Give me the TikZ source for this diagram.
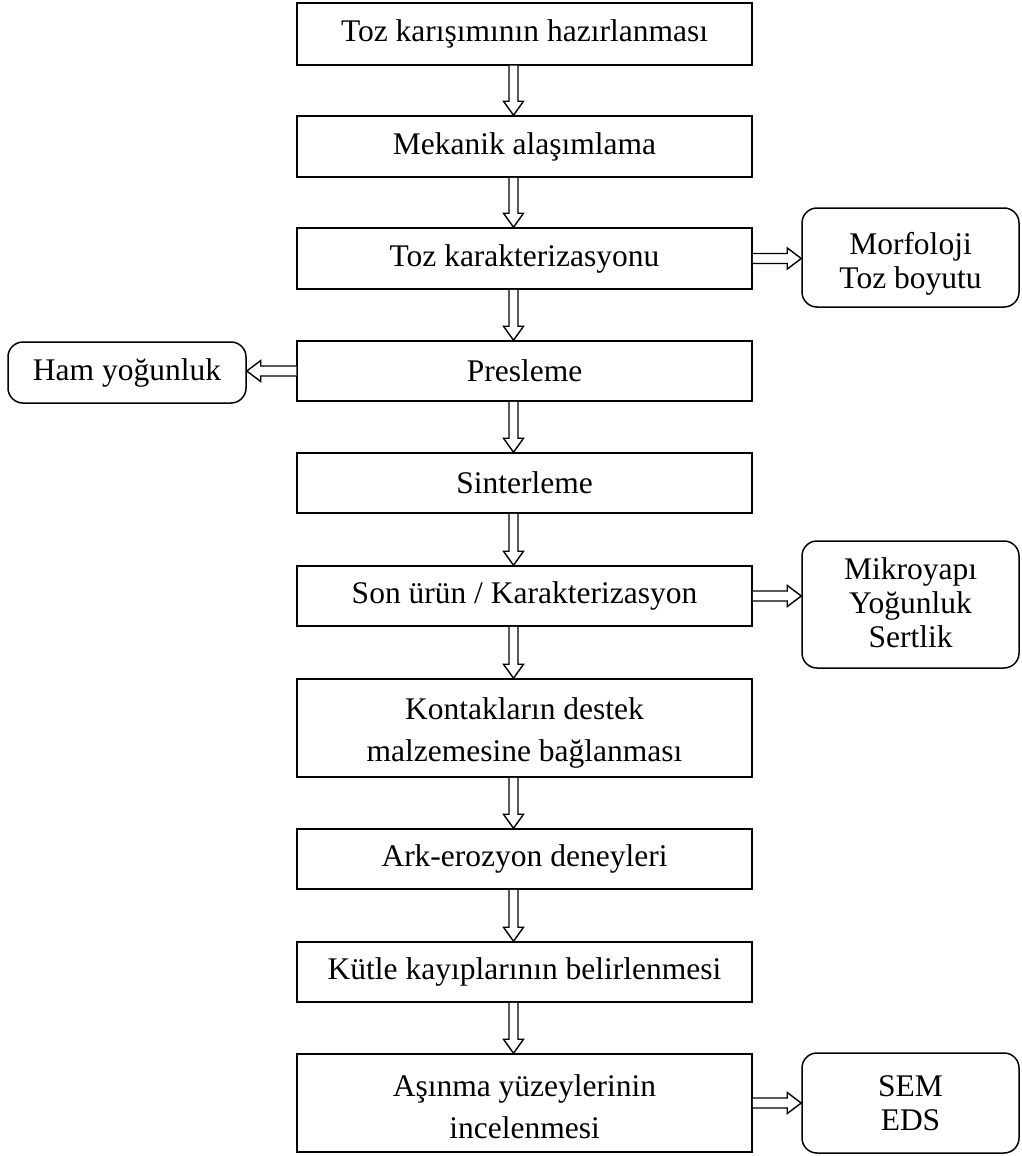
\documentclass[tikz,border=0pt]{standalone}
\usepackage{fontspec}
\setmainfont{Liberation Serif}
\usetikzlibrary{calc}
\newcommand\myDarr[2]{\path[blockarr] let \p1=(#1.south), \p2=(#2.north) in (\x1-15.5pt,\y1) -- (\x1-15.5pt,\y2+14pt) -- (\x1-21pt,\y2+14pt) -- (\x1-11pt,\y2) -- (\x1-1pt,\y2+14pt) -- (\x1-6.5pt,\y2+14pt) -- (\x1-6.5pt,\y1);}
\newcommand\myRarr[2]{\path[blockarr] let \p1=(#1.east), \p2=(#2.west) in (\x1,\y1+5pt) -- (\x2-14pt,\y1+5pt) -- (\x2-14pt,\y1+10.5pt) -- (\x2,\y1) -- (\x2-14pt,\y1-10.5pt) -- (\x2-14pt,\y1-5pt) -- (\x1,\y1-5pt);}
\newcommand\myLarr[2]{\path[blockarr] let \p1=(#1.west), \p2=(#2.east) in (\x1,\y1+5pt) -- (\x2+14pt,\y1+5pt) -- (\x2+14pt,\y1+10.5pt) -- (\x2,\y1) -- (\x2+14pt,\y1-10.5pt) -- (\x2+14pt,\y1-5pt) -- (\x1,\y1-5pt);}
\begin{document}
\begin{tikzpicture}[x=1pt,y=-1pt,
  mainbox/.style={draw, line width=1.5pt, minimum width=455pt, inner sep=0pt, align=center, font=\fontsize{31.5}{42}\selectfont},
  sidebox/.style={draw, line width=1.5pt, rounded corners=15pt, minimum width=217pt, inner sep=0pt, align=center, font=\fontsize{31.5}{34}\selectfont},
  maintext/.style={inner sep=0pt, align=center, font=\fontsize{31.5}{42}\selectfont},
  sidetext/.style={inner sep=0pt, align=center, font=\fontsize{31.5}{34}\selectfont},
  blockarr/.style={draw, fill=white, line width=1.4pt, line join=miter}]
\useasboundingbox[fill=white] (0,0) rectangle (1021,1156);
\node[mainbox, minimum height=62pt] (b1) at (524.5,34) {Toz karışımının hazırlanması};
\node[mainbox, minimum height=61pt] (b2) at (524.5,146.5) {Mekanik alaşımlama};
\node[mainbox, minimum height=61pt] (b3) at (524.5,258.5) {Toz karakterizasyonu};
\node[mainbox, minimum height=60pt] (b4) at (524.5,371) {Presleme};
\node[mainbox, minimum height=60pt] (b5) at (524.5,483) {Sinterleme};
\node[mainbox, minimum height=60pt] (b6) at (524.5,596) {Son ürün / Karakterizasyon};
\node[mainbox, minimum height=98pt, label={[name=b7t, maintext, yshift=-5pt]center:{Kontakların destek\\malzemesine bağlanması}}] (b7) at (524.5,728) {};
\node[mainbox, minimum height=60pt] (b8) at (524.5,859) {Ark-erozyon deneyleri};
\node[mainbox, minimum height=60pt] (b9) at (524.5,972) {Kütle kayıplarının belirlenmesi};
\node[mainbox, minimum height=98pt, label={[name=b10t, maintext, yshift=-4pt]center:{Aşınma yüzeylerinin\\incelenmesi}}] (b10) at (524.5,1103) {};
\node[sidebox, minimum height=99pt, label={[name=s1t, sidetext, yshift=-6pt]center:{Morfoloji\\Toz boyutu}}] (s1) at (910.5,257.5) {};
\node[sidebox, minimum height=127pt, label={[name=s2t, sidetext, yshift=2pt]center:{Mikroyapı\\Yoğunluk\\Sertlik}}] (s2) at (910.5,604.5) {};
\node[sidebox, minimum height=100pt] (s3) at (910.5,1103) {SEM\\EDS};
\node[sidebox, minimum width=238pt, minimum height=61pt] (h) at (127,372.5) {Ham yoğunluk};
\myDarr{b1}{b2}
\myDarr{b2}{b3}
\myDarr{b3}{b4}
\myDarr{b4}{b5}
\myDarr{b5}{b6}
\myDarr{b6}{b7}
\myDarr{b7}{b8}
\myDarr{b8}{b9}
\myDarr{b9}{b10}
\myRarr{b3}{s1}
\myRarr{b6}{s2}
\myRarr{b10}{s3}
\myLarr{b4}{h}
\end{tikzpicture}
\end{document}
